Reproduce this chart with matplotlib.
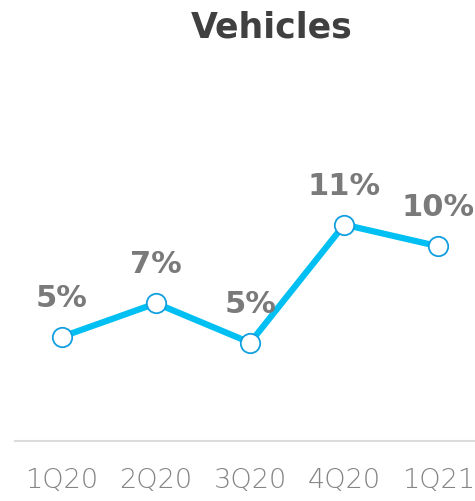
import matplotlib
matplotlib.use("Agg")
import matplotlib.pyplot as plt

quarters = ["1Q20", "2Q20", "3Q20", "4Q20", "1Q21"]
share = [5.3, 7.0, 5.0, 11.0, 9.9]   # % of revenue

LINE, EDGE = "#00bff3", "#129fe0"
TITLE_C, LABEL_C, TICK_C = "#404040", "#7a7a7a", "#858585"
FONT = "DejaVu Sans"

fig = plt.figure(figsize=(4.75, 5.01), dpi=100)
ax = fig.add_axes([15 / 475, 60 / 501, 460 / 475, 381 / 501])

x = list(range(len(quarters)))
ax.plot(x, share, color=LINE, lw=4.5, solid_capstyle="round", zorder=2)
ax.plot(x, share, ls="none", marker="o", ms=14, mfc="white", mec=EDGE,
        mew=1.3, zorder=3)
for xi, v in zip(x, share):
    ax.annotate(f"{v:.0f}%", (xi, v), xytext=(0, 21.5), textcoords="offset points",
                ha="center", va="baseline", fontsize=22, fontweight="bold",
                family=FONT, color=LABEL_C)

ax.set_xlim(-0.5, 4.39)
ax.set_ylim(0, 381 / 19.67)
ax.set_xticks(x)
ax.set_xticklabels(quarters, fontsize=19.5, color=TICK_C, family=FONT,
                   fontweight="light")
ax.tick_params(axis="x", length=0, pad=19.5)
ax.set_yticks([])
for side in ("top", "right", "left"):
    ax.spines[side].set_visible(False)
ax.spines["bottom"].set_color("#dcdcdc")
ax.spines["bottom"].set_linewidth(1.5)

fig.text(272 / 475, 1 - 38 / 501, "Vehicles", ha="center", va="baseline",
         fontsize=25, fontweight="bold", family=FONT, color=TITLE_C)

fig.savefig("out.png", dpi=100)
